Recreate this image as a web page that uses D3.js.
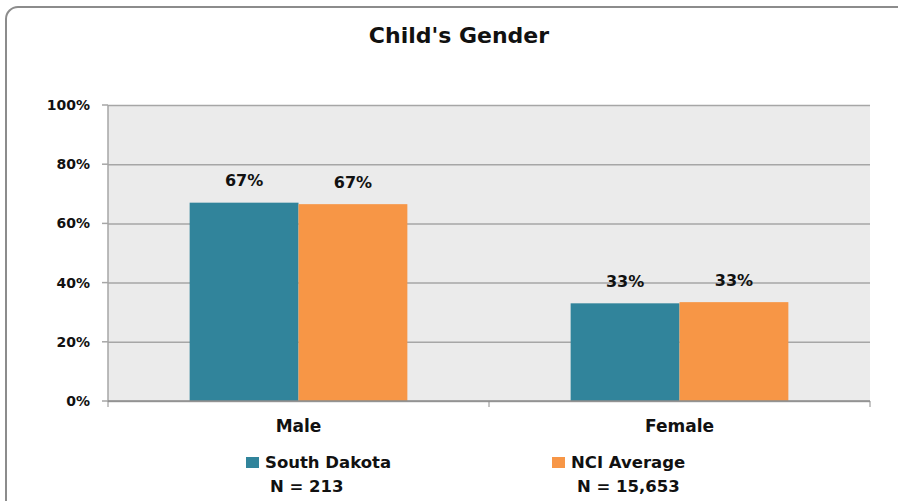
<!DOCTYPE html>
<html>
<head>
<meta charset="utf-8">
<script src="https://cdn.jsdelivr.net/npm/d3@7"></script>
<style>
  body { margin: 0; background: #fff; }
  text { font-family: "DejaVu Sans", sans-serif; font-weight: bold; fill: #111; }
</style>
</head>
<body>
<script>
var categories = ["Male", "Female"],
    seriesNames = ["South Dakota", "NCI Average"],
    seriesN = ["N = 213", "N = 15,653"],
    southDakota = [67.0, 33.0],
    nciAverage = [66.5, 33.4],
    labels = [["67%", "33%"], ["67%", "33%"]],
    yTicks = [0, 20, 40, 60, 80, 100];

var colors = ["#31849b", "#f79646"];
var series = [southDakota, nciAverage];

var svg = d3.select("body").append("svg")
  .attr("width", 898).attr("height", 501);

// outer frame
svg.append("rect")
  .attr("x", 6).attr("y", 7).attr("width", 940).attr("height", 540)
  .attr("rx", 12)
  .attr("fill", "none").attr("stroke", "#8c8c8c").attr("stroke-width", 2);

svg.append("text")
  .attr("x", 459).attr("y", 43)
  .attr("text-anchor", "middle")
  .style("font-size", "22px")
  .text("Child's Gender");

var pLeft = 108, pRight = 870, pTop = 105, pBottom = 401;

var x = d3.scaleBand().domain(categories).range([pLeft, pRight]);
var y = d3.scaleLinear().domain([0, 100]).range([pBottom, pTop]);
var inner = d3.scaleBand().domain([0, 1]).range([0, x.bandwidth()]).paddingOuter(0.75);

svg.append("rect")
  .attr("x", pLeft).attr("y", pTop)
  .attr("width", pRight - pLeft).attr("height", pBottom - pTop)
  .attr("fill", "#ebebeb");

svg.append("g")
  .attr("transform", "translate(" + pLeft + ",0)")
  .call(d3.axisLeft(y).tickValues(yTicks).tickSize(-(pRight - pLeft)).tickFormat(function (d) { return d + "%"; }))
  .call(function (g) {
    g.select(".domain").remove();
    g.selectAll(".tick line").attr("stroke", "#a6a6a6").attr("stroke-width", 1.5);
    g.selectAll(".tick text").attr("x", -18).style("font-size", "14px").attr("fill", "#111");
  });

// tick stubs left of the axis
svg.selectAll(".ystub").data(yTicks).enter().append("line")
  .attr("x1", pLeft - 6).attr("x2", pLeft)
  .attr("y1", function (d) { return y(d); }).attr("y2", function (d) { return y(d); })
  .attr("stroke", "#a6a6a6").attr("stroke-width", 1.5);

svg.append("line")
  .attr("x1", pLeft).attr("x2", pLeft).attr("y1", pTop).attr("y2", pBottom)
  .attr("stroke", "#a6a6a6").attr("stroke-width", 1.5);

series.forEach(function (vals, s) {
  svg.selectAll(".bar" + s).data(vals).enter().append("rect")
    .attr("x", function (d, i) { return x(categories[i]) + inner(s); })
    .attr("y", function (d) { return y(d); })
    .attr("width", inner.bandwidth())
    .attr("height", function (d) { return pBottom - y(d); })
    .attr("fill", colors[s]);

  svg.selectAll(".lab" + s).data(vals).enter().append("text")
    .attr("x", function (d, i) { return x(categories[i]) + inner(s) + inner.bandwidth() / 2; })
    .attr("y", function (d) { return y(d) - 16.5; })
    .attr("text-anchor", "middle")
    .style("font-size", "16px")
    .text(function (d, i) { return labels[s][i]; });
});

// x axis
svg.append("g")
  .attr("transform", "translate(0," + pBottom + ")")
  .call(d3.axisBottom(x).tickSize(0).tickPadding(19))
  .call(function (g) {
    g.select(".domain").attr("stroke", "#8c8c8c").attr("stroke-width", 1.5)
      .attr("d", "M" + pLeft + ",0H" + pRight);
    g.selectAll(".tick text").style("font-size", "17px").attr("fill", "#111");
  });

svg.selectAll(".xstub").data([pLeft, (pLeft + pRight) / 2, pRight]).enter().append("line")
  .attr("x1", function (d) { return d; }).attr("x2", function (d) { return d; })
  .attr("y1", pBottom).attr("y2", pBottom + 6)
  .attr("stroke", "#8c8c8c").attr("stroke-width", 1);

// legend
var legX = [246, 552];
seriesNames.forEach(function (name, s) {
  svg.append("rect")
    .attr("x", legX[s]).attr("y", 457).attr("width", 13).attr("height", 11)
    .attr("fill", colors[s]);
  svg.append("text")
    .attr("x", legX[s] + 19).attr("y", 468)
    .style("font-size", "16.5px")
    .text(name);
  svg.append("text")
    .attr("x", legX[s] + 24 + s).attr("y", 492)
    .style("font-size", "16.5px")
    .text(seriesN[s]);
});
</script>
</body>
</html>
